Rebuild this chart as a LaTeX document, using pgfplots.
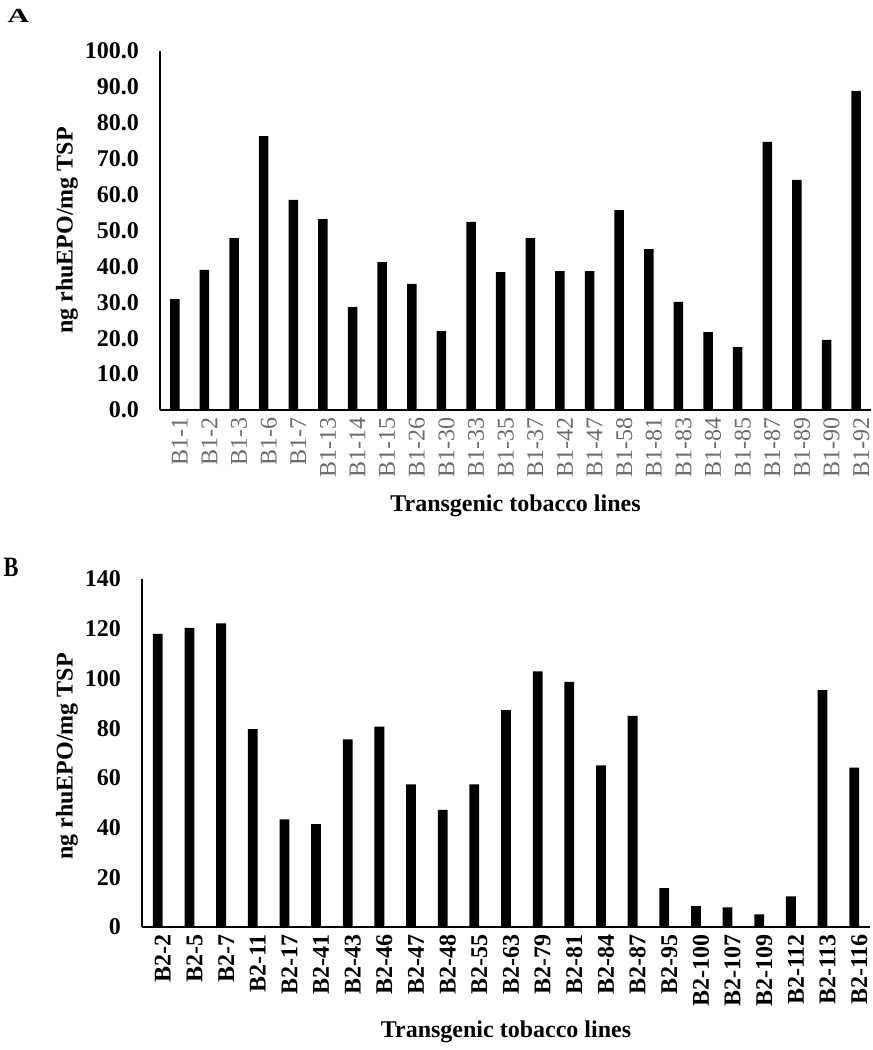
\documentclass[border=0pt]{standalone}
\usepackage{fontspec}
\setmainfont{Liberation Serif}
\usepackage{pgfplots}
\pgfplotsset{compat=1.18}

\pgfplotsset{
  panel/.style={
    scale only axis,
    ybar, bar width=4.7pt,
    axis x line=bottom, axis y line=left,
    axis line style={-, black},
    x axis line style={line width=0.9pt},
    y axis line style={line width=0.6pt},
    major tick length=0pt,
    xmin=-0.5, ymin=0,
    xtick=data,
    /pgf/number format/assume math mode=true,
    tick label style={font=\fontsize{12}{14}\selectfont\bfseries},
    yticklabel style={xshift=-7pt},
    xticklabel style={rotate=90, anchor=east, yshift=-2.5pt},
    label style={font=\fontsize{12}{14}\selectfont\bfseries},
    clip=false,
  }
}

\begin{document}
\begin{tikzpicture}[x=1pt,y=1pt]
\useasboundingbox (0,0) rectangle (436.5,525);

% panel A
\node[font=\fontsize{10}{10}\selectfont\bfseries, xscale=1.5] at (9.25,517.2) {A};
\begin{axis}[panel,
  at={(80pt,320pt)}, anchor=south west,
  width=355.5pt, height=179.5pt,
  xmax=23.5, ymax=100, ytick={0,10,...,100},
  yticklabel style={/pgf/number format/.cd,fixed,fixed zerofill,precision=1},
  xticklabel style={font=\fontsize{12}{14}\selectfont\mdseries, text=black!58},
  xticklabels={B1-1,B1-2,B1-3,B1-6,B1-7,B1-13,B1-14,B1-15,B1-26,B1-30,B1-33,B1-35,
    B1-37,B1-42,B1-47,B1-58,B1-81,B1-83,B1-84,B1-85,B1-87,B1-89,B1-90,B1-92},
  xlabel={Transgenic tobacco lines},
  xlabel style={at={(axis description cs:0.5,0)}, anchor=center, yshift=-48pt},
  ylabel={ng rhuEPO/mg TSP},
  ylabel style={at={(axis description cs:-0.131,0.5)}, anchor=center},
]
\addplot[fill=black, draw=none] coordinates {
  (0,30.9) (1,39.0) (2,47.9) (3,76.3) (4,58.5) (5,53.2) (6,28.7) (7,41.2)
  (8,35.1) (9,22.0) (10,52.4) (11,38.4) (12,47.9) (13,38.7) (14,38.7) (15,55.7)
  (16,44.8) (17,30.1) (18,21.7) (19,17.5) (20,74.7) (21,64.1) (22,19.5) (23,88.9)};
\end{axis}

% panel B
\node[font=\fontsize{14}{14}\selectfont\bfseries, xscale=0.8] at (5.5,241.5) {B};
\begin{axis}[panel,
  at={(71pt,61.5pt)}, anchor=south west,
  width=364pt, height=174pt,
  bar width=4.9pt,
  xmax=22.5, ymax=140, ytick={0,20,...,140},
  xticklabels={B2-2,B2-5,B2-7,B2-11,B2-17,B2-41,B2-43,B2-46,B2-47,B2-48,B2-55,B2-63,
    B2-79,B2-81,B2-84,B2-87,B2-95,B2-100,B2-107,B2-109,B2-112,B2-113,B2-116},
  xlabel={Transgenic tobacco lines},
  xlabel style={at={(axis description cs:0.5,0)}, anchor=center, yshift=-52.5pt},
  ylabel={ng rhuEPO/mg TSP},
  ylabel style={at={(axis description cs:-0.103,0.49)}, anchor=center},
]
\addplot[fill=black, draw=none] coordinates {
  (0,117.9) (1,120.3) (2,122.1) (3,79.6) (4,43.3) (5,41.4) (6,75.5) (7,80.6)
  (8,57.4) (9,47.1) (10,57.4) (11,87.2) (12,102.8) (13,98.6) (14,65.0) (15,84.9)
  (16,15.6) (17,8.4) (18,7.9) (19,5.1) (20,12.3) (21,95.3) (22,64.1)};
\end{axis}
\end{tikzpicture}
\end{document}
